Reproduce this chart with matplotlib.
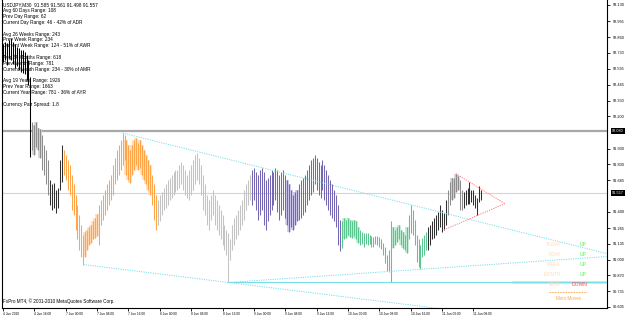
import numpy as np
import matplotlib
matplotlib.use("Agg")
import matplotlib.pyplot as plt

plt.rcParams['font.family'] = ['Liberation Sans', 'DejaVu Sans']

# USDJPY M30 bars, highs / lows, one list per coloured move
black_hi = [92.80, 92.82, 92.81, 92.84, 92.85, 92.82, 92.80, 92.78, 92.77, 92.75, 92.75, 92.74, 92.71, 92.67, 92.53]
black_lo = [92.65, 92.67, 92.63, 92.69, 92.67, 92.64, 92.60, 92.62, 92.59, 92.57, 92.56, 92.55, 92.50, 92.46, 91.86]
gray1_hi = [92.15, 92.13, 92.15, 92.10, 92.09, 92.04, 91.96, 91.92, 91.83]
gray1_lo = [91.92, 91.88, 91.94, 91.92, 91.85, 91.75, 91.71, 91.63, 91.54]
dark1_hi = [91.67, 91.63, 91.64, 91.58, 91.60, 91.83, 91.96]
dark1_lo = [91.46, 91.42, 91.43, 91.39, 91.43, 91.58, 91.65]
orange_hi = [91.92, 91.88, 91.83, 91.79, 91.71, 91.63, 91.54, 91.46, 91.37, 91.29, 91.21,
             91.23, 91.25, 91.27, 91.29, 91.32, 91.35, 91.38, 91.46, 91.50, 91.54, 91.58, 91.63, 91.67, 91.71,
             91.79, 91.85, 91.92, 91.96, 92.00, 92.06, 92.04,
             92.00, 91.96, 91.92, 91.96, 92.00, 92.02, 91.98, 92.00, 91.96, 91.92, 91.88, 91.83, 91.79, 91.71, 91.63, 91.54]
orange_lo = [91.71, 91.67, 91.58, 91.54, 91.42, 91.37, 91.25, 91.17, 91.08, 91.02, 90.96,
             91.02, 91.08, 91.12, 91.14, 91.17, 91.18, 91.20, 91.12, 91.29, 91.33, 91.37, 91.42, 91.46, 91.50,
             91.54, 91.63, 91.67, 91.71, 91.75, 91.79, 91.83,
             91.71, 91.67, 91.64, 91.71, 91.75, 91.79, 91.75, 91.77, 91.71, 91.67, 91.63, 91.58, 91.54, 91.46, 91.33, 91.25]
lgray_hi = [91.50, 91.54, 91.57, 91.60, 91.63, 91.67, 91.68, 91.71, 91.73, 91.75, 91.75, 91.79, 91.82, 91.79, 91.75,
            91.71, 91.75, 91.79, 91.83, 91.88, 91.89, 91.85,
            91.79, 91.71, 91.63, 91.54, 91.50, 91.54, 91.58, 91.54, 91.50, 91.46, 91.42, 91.37, 91.29, 91.25,
            91.22, 91.17, 91.29, 91.35, 91.37, 91.42, 91.46, 91.50, 91.58, 91.63, 91.67, 91.71]
lgray_lo = [91.29, 91.32, 91.37, 91.42, 91.43, 91.46, 91.50, 91.52, 91.54, 91.57, 91.58, 91.60, 91.63, 91.58, 91.54,
            91.52, 91.50, 91.54, 91.58, 91.63, 91.67, 91.63,
            91.54, 91.42, 91.37, 91.29, 91.25, 91.33, 91.37, 91.29, 91.25, 91.21, 91.17, 91.12, 91.08, 91.04,
            90.81, 91.00, 91.08, 91.12, 91.17, 91.21, 91.25, 91.29, 91.33, 91.42, 91.46, 91.50]
purple_hi = [91.75, 91.77, 91.73, 91.71, 91.75, 91.77, 91.73, 91.67, 91.68, 91.71,
             91.75, 91.73, 91.77, 91.75, 91.71, 91.73, 91.75, 91.71, 91.67, 91.63,
             91.58, 91.54, 91.57, 91.58, 91.63, 91.67, 91.68, 91.71, 91.75, 91.79,
             91.83, 91.85, 91.88, 91.85, 91.82, 91.79, 91.83, 91.79, 91.75, 91.71,
             91.67, 91.63, 91.58, 91.54, 91.46, 91.33]
purple_lo = [91.46, 91.50, 91.42, 91.33, 91.37, 91.42, 91.29, 91.25, 91.32, 91.37,
             91.42, 91.46, 91.50, 91.40, 91.33, 91.37, 91.42, 91.35, 91.29, 91.23,
             91.27, 91.25, 91.29, 91.32, 91.33, 91.35, 91.37, 91.40, 91.46, 91.50,
             91.54, 91.57, 91.63, 91.58, 91.54, 91.52, 91.58, 91.50, 91.46, 91.42,
             91.37, 91.35, 91.32, 91.27, 91.12, 91.07]
green_hi = [91.32, 91.35, 91.33, 91.35, 91.33, 91.32, 91.33, 91.32, 91.27, 91.25,
            91.23, 91.22, 91.22, 91.22, 91.21, 91.20, 91.19, 91.20, 91.20, 91.19,
            91.17, 91.14, 91.11, 91.04, 91.08, 91.32, 91.27, 91.25, 91.27, 91.29,
            91.25, 91.23, 91.21, 91.27, 91.37, 91.46, 91.42, 91.33, 91.21, 91.17,
            91.12, 91.18, 91.21, 91.23]
green_lo = [91.10, 91.17, 91.18, 91.21, 91.19, 91.18, 91.20, 91.17, 91.14, 91.12,
            91.13, 91.11, 91.13, 91.12, 91.13, 91.11, 91.11, 91.13, 91.12, 91.11,
            91.09, 91.04, 90.97, 90.91, 90.90, 90.81, 91.10, 91.12, 91.15, 91.17,
            91.12, 91.10, 91.08, 91.06, 91.17, 91.22, 91.21, 91.12, 90.98, 90.94,
            90.92, 91.02, 91.04, 91.08]
dark2_hi = [91.27, 91.29, 91.32, 91.35, 91.37, 91.40, 91.46, 91.42, 91.39, 91.50]
dark2_lo = [91.08, 91.12, 91.17, 91.18, 91.21, 91.25, 91.27, 91.23, 91.25, 91.29]
gray2_hi = [91.58, 91.65, 91.68, 91.68, 91.72, 91.70, 91.67, 91.58]
gray2_lo = [91.37, 91.46, 91.50, 91.52, 91.57, 91.58, 91.42, 91.42]
dark3_hi = [91.57, 91.58, 91.60, 91.65, 91.58, 91.58, 91.54, 91.52, 91.62, 91.585]
dark3_lo = [91.43, 91.46, 91.47, 91.47, 91.48, 91.46, 91.43, 91.37, 91.48, 91.498]

level_prev = 92.080
level_bid = 91.557

price_ticks = [93.130, 92.995, 92.860, 92.730, 92.595, 92.465, 92.330, 92.200, 91.930, 91.800,
               91.665, 91.400, 91.265, 91.135, 91.000, 90.870, 90.735, 90.605]
time_labels = ['4 Jun 2010', '4 Jun 16:00', '7 Jun 00:00', '7 Jun 08:00', '7 Jun 16:00', '8 Jun 00:00',
               '8 Jun 08:00', '8 Jun 16:00', '9 Jun 00:00', '9 Jun 08:00', '9 Jun 16:00', '10 Jun 00:00',
               '10 Jun 08:00', '10 Jun 16:00', '11 Jun 00:00', '11 Jun 08:00']

info_lines = ['USDJPY,M30  91.585 91.561 91.498 91.557',
              'Avg 60 Days Range: 108', 'Prev Day Range: 62', 'Current Day Range: 46 - 42% of ADR', '',
              'Avg 26 Weeks Range: 243', 'Prev Week Range: 234', 'Current Week Range: 124 - 51% of AWR', '',
              'Avg 24 Months Range: 618', 'Prev Month Range: 781', 'Current Month Range: 234 - 30% of AMR', '',
              'Avg 19 Years Range: 1926', 'Prev Year Range: 1663', 'Current Year Range: 781 - 36% of AYR', '',
              'Currency Pair Spread: 1.8']
moves_names = ['TODAY', 'Y-DAY', 'WEEK', 'MONTH', 'YEAR']
moves_state = ['UP', 'UP', 'UP', 'UP', 'DOWN']

segments = [(black_hi, black_lo, '#000000'), (gray1_hi, gray1_lo, '#8c8c8c'),
            (dark1_hi, dark1_lo, '#303030'), (orange_hi, orange_lo, '#ffa54a'),
            (lgray_hi, lgray_lo, '#c4c4c4'), (purple_hi, purple_lo, '#7468b4'),
            (green_hi, green_lo, '#5cc48e'), (dark2_hi, dark2_lo, '#303030'),
            (gray2_hi, gray2_lo, '#8c8c8c'), (dark3_hi, dark3_lo, '#303030')]
hi, lo, col = [], [], []
for h, l, c in segments:
    hi += h
    lo += l
    col += [c] * len(h)
hi = np.array(hi)
lo = np.array(lo)
idx = np.arange(len(hi))

# lighter, wider bodies behind some bars
shades = [(16, 19, '#d2d2d2'), (42, 48, '#ffdcb8'), (63, 75, '#ffdcb8'), (145, 150, '#cdc6ec'),
          (174, 181, '#bfead2'), (199, 206, '#bfead2'), (229, 232, '#cfcfcf')]

W, H = 625, 319
fig = plt.figure(figsize=(W / 100, H / 100), dpi=100)
ax = fig.add_axes([2 / W, 1 - 308 / H, 605 / W, 308 / H])
step = 1.96
x0 = -1 / step
x1 = x0 + 605 / step
ax.set_xlim(x0, x1)
ax.set_ylim(93.13 - 303 / 119.6, 93.13 + 5 / 119.6)

ax.axhline(level_prev, color='#a8a8a8', lw=1.6, zorder=2)
ax.axhline(level_bid, color='#d4d4d4', lw=0.8, zorder=2)

for a, b, c in shades:
    ax.vlines(idx[a:b + 1], lo[a:b + 1], hi[a:b + 1], colors=c, lw=2.6, zorder=2)
ax.vlines(idx, lo, hi, colors=col, lw=0.75, zorder=3)


def line_pts(i1, p1, i2, p2, xa, xb):
    k = (p2 - p1) / (i2 - i1)
    return [xa, xb], [p1 + k * (xa - i1), p1 + k * (xb - i1)]


cyan = '#79dde8'
dots = (0, (1.2, 1.2))
xs, ys = line_pts(61, hi[61], 208, hi[208], 61, x1)
ax.plot(xs, ys, color=cyan, lw=0.7, ls=dots, zorder=4)
xs, ys = line_pts(41, lo[41], 115, lo[115], 41, x1)
ax.plot(xs, ys, color=cyan, lw=0.7, ls=dots, zorder=4)
xs, ys = line_pts(115, lo[115], 213, lo[213], 115, x1)
ax.plot(xs, ys, color=cyan, lw=0.7, ls=dots, zorder=4)
ax.plot([115, x1], [lo[115], lo[115]], color=cyan, lw=0.8, zorder=4)
ax.plot([260, x1], [lo[115], lo[115]], color='#b4eef2', lw=1.8, zorder=3)

# triangle on the last swing
kt = (hi[238] - hi[231]) / 7
kb = (lo[242] - lo[225]) / 17
ia = (lo[225] - kb * 225 - hi[231] + kt * 231) / (kt - kb)
pa = hi[231] + kt * (ia - 231)
pink = '#ff7878'
ax.plot([231, ia], [hi[231], pa], color=pink, lw=0.7, ls=dots, zorder=4)
ax.plot([225, ia], [lo[225], pa], color=pink, lw=0.7, ls=dots, zorder=4)

for s in ['left', 'bottom', 'right']:
    ax.spines[s].set_linewidth(0.8)
    ax.spines[s].set_color('#000000')
ax.spines['top'].set_visible(False)

ax.yaxis.tick_right()
ax.set_yticks(price_ticks)
ax.set_yticklabels(['%.3f' % v for v in price_ticks])
ax.tick_params(axis='y', direction='out', length=2.5, width=0.6, labelsize=2.8, pad=1.5)
ax.set_xticks(np.arange(len(time_labels)) * 16)
ax.set_xticklabels(time_labels)
ax.tick_params(axis='x', direction='out', length=2, width=0.6, labelsize=2.3, pad=1.2)
for t in ax.get_xticklabels():
    t.set_ha('left')

for v in [level_prev, level_bid]:
    ax.text(1.0085, v, '%.3f' % v, transform=ax.get_yaxis_transform(), ha='left', va='center',
            fontsize=2.8, color='white', clip_on=False, zorder=6,
            bbox=dict(boxstyle='square,pad=0.25', fc='black', ec='none'))


def fx(px):
    return px / W


def fy(py):
    return 1 - py / H


for k, line in enumerate(info_lines):
    fig.text(fx(3), fy(5 + 5.83 * k), line, fontsize=3.4, color='black', va='center', ha='left')
fig.text(fx(3), fy(301), 'FxPro MT4, \u00a9 2001-2010 MetaQuotes Software Corp.', fontsize=3.3,
         color='black', va='center', ha='left')

for k, (name, state) in enumerate(zip(moves_names, moves_state)):
    y = 245 + 9.8 * k
    fig.text(fx(561), fy(y), name, fontsize=3.3, color='#ffd9b6', ha='right', va='center')
    fig.text(fx(587), fy(y), state, fontsize=3.6, color='#55ee55' if state == 'UP' else '#ff4c4c',
             ha='right', va='center')
fig.add_artist(plt.Line2D([fx(549), fx(587)], [fy(292), fy(292)], color='#ffa54a', lw=0.6,
                          ls=(0, (2, 1.2))))
fig.text(fx(569), fy(298), 'Main Moves', fontsize=3.3, color='#ffa54a', ha='center', va='center')

fig.savefig('out.png', dpi=100, facecolor='white')
